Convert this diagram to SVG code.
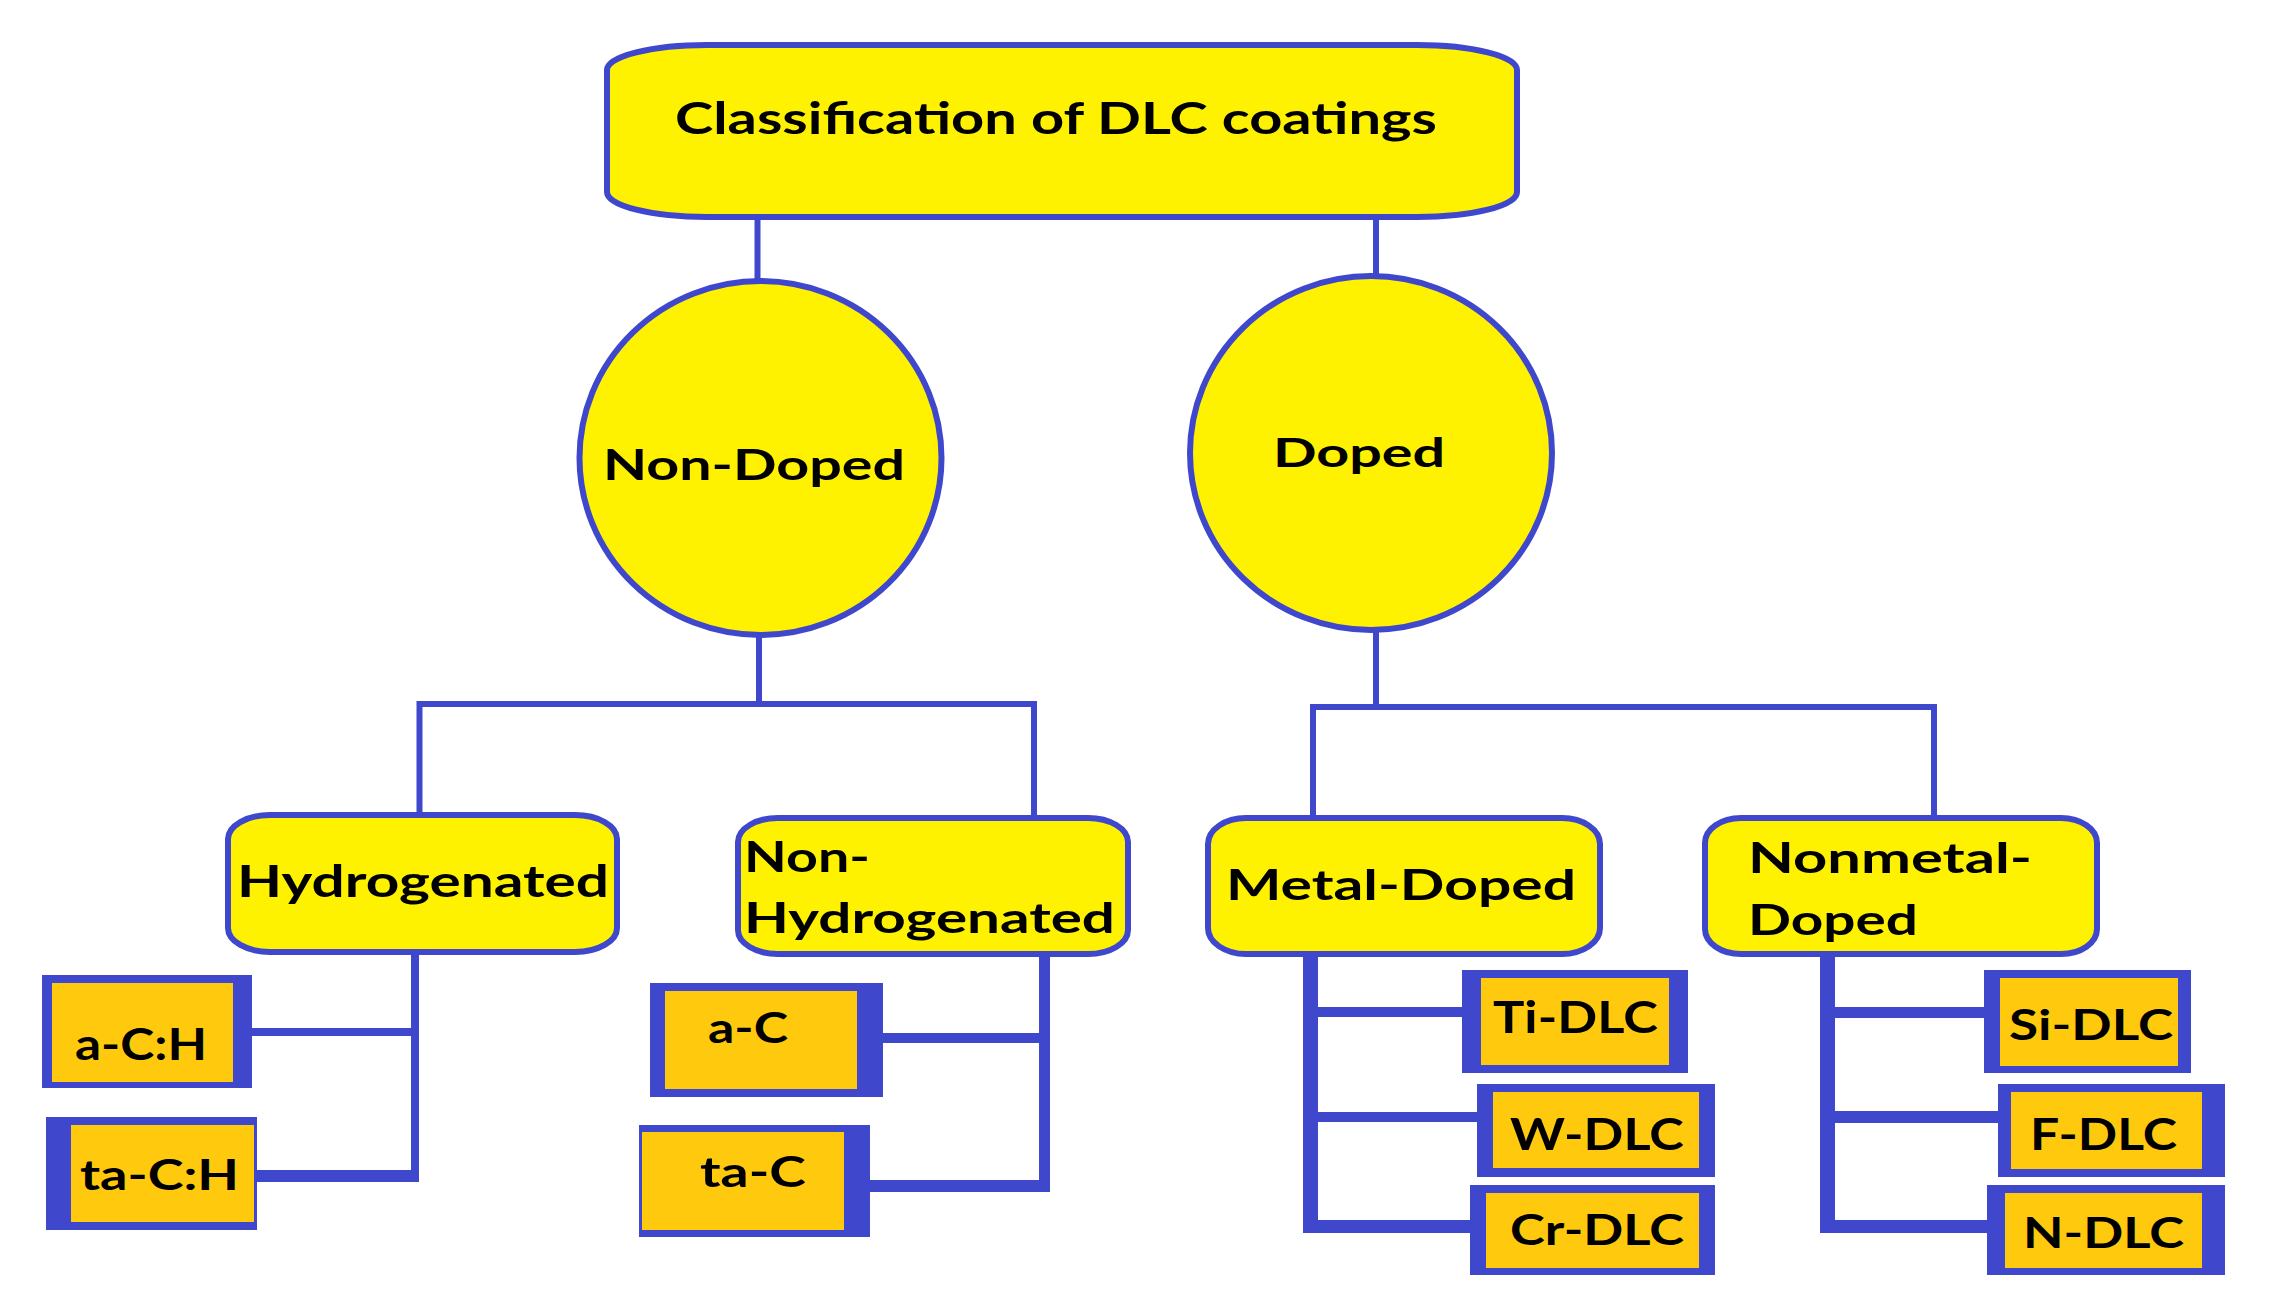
<svg xmlns="http://www.w3.org/2000/svg" width="2280" height="1305" viewBox="0 0 2280 1305">
<style>
.bg{fill:#ffffff}
.conn{fill:none;stroke:#3f48cc;stroke-width:6;stroke-linejoin:miter;stroke-linecap:butt}
.bar{fill:#3f48cc}
.main{fill:#fff200;stroke:#3f48cc;stroke-width:6}
.outer{fill:#3f48cc}
.inner{fill:#ffc90e}
.t{font-family:Lato,"Open Sans","Liberation Sans",sans-serif;font-weight:bold;fill:#000000}
</style>
<rect class="bg" x="0" y="0" width="2280" height="1305"/>
<g id="connectors">
<line class="conn" x1="757.5" y1="217" x2="757.5" y2="281"/>
<line class="conn" x1="1376" y1="217" x2="1376" y2="276"/>
<path class="conn" d="M759,636 V704"/>
<path class="conn" d="M419.5,815 V704 H1034 V818"/>
<path class="conn" d="M1376,631 V707"/>
<path class="conn" d="M1313,818 V707 H1934 V818"/>
<rect class="bar" x="411" y="955" width="8" height="227"/>
<rect class="bar" x="252" y="1028" width="163" height="8"/>
<rect class="bar" x="254" y="1170" width="165" height="12"/>
<rect class="bar" x="1039" y="956" width="11" height="236"/>
<rect class="bar" x="883" y="1033" width="160" height="10"/>
<rect class="bar" x="869" y="1180" width="181" height="12"/>
<rect class="bar" x="1303" y="956" width="15" height="277"/>
<rect class="bar" x="1303" y="1007" width="159" height="10"/>
<rect class="bar" x="1303" y="1112" width="174" height="10"/>
<rect class="bar" x="1303" y="1220" width="167" height="13"/>
<rect class="bar" x="1820" y="956" width="15" height="277"/>
<rect class="bar" x="1820" y="1007" width="164" height="11"/>
<rect class="bar" x="1820" y="1111" width="178" height="12"/>
<rect class="bar" x="1820" y="1220" width="167" height="13"/>
</g>
<g id="root">
<rect class="main" x="607" y="45" width="910" height="172" rx="100" ry="25"/>
<text class="t" x="675" y="134" font-size="43" textLength="762" lengthAdjust="spacingAndGlyphs">Classification of DLC coatings</text>
</g>
<g id="nondoped">
<ellipse class="main" cx="760.5" cy="458" rx="181" ry="177"/>
<text class="t" x="603" y="480" font-size="42" textLength="302" lengthAdjust="spacingAndGlyphs">Non-Doped</text>
</g>
<g id="doped">
<ellipse class="main" cx="1371" cy="453" rx="181" ry="177"/>
<text class="t" x="1273" y="467" font-size="40" textLength="172" lengthAdjust="spacingAndGlyphs">Doped</text>
</g>
<g id="hydrogenated">
<rect class="main" x="228" y="815" width="389" height="137" rx="42" ry="24"/>
<text class="t" x="237" y="897" font-size="44" textLength="372" lengthAdjust="spacingAndGlyphs">Hydrogenated</text>
</g>
<g id="nonhydrogenated">
<rect class="main" x="738" y="818" width="390" height="136" rx="40" ry="24"/>
<text class="t" x="744" y="872" font-size="42" textLength="126" lengthAdjust="spacingAndGlyphs">Non-</text>
<text class="t" x="744" y="933" font-size="42" textLength="371" lengthAdjust="spacingAndGlyphs">Hydrogenated</text>
</g>
<g id="metaldoped">
<rect class="main" x="1208" y="818" width="392" height="136" rx="38" ry="26"/>
<text class="t" x="1226" y="900" font-size="42" textLength="350" lengthAdjust="spacingAndGlyphs">Metal-Doped</text>
</g>
<g id="nonmetaldoped">
<rect class="main" x="1705" y="818" width="392" height="136" rx="36" ry="25"/>
<text class="t" x="1748" y="873" font-size="42" textLength="284" lengthAdjust="spacingAndGlyphs">Nonmetal-</text>
<text class="t" x="1748" y="935" font-size="42" textLength="170" lengthAdjust="spacingAndGlyphs">Doped</text>
</g>
<g id="aCH">
<rect class="outer" x="42" y="975" width="210" height="113"/>
<rect class="inner" x="52" y="983" width="181" height="99"/>
<text class="t" x="75" y="1060" font-size="44" textLength="132" lengthAdjust="spacingAndGlyphs">a-C:H</text>
</g>
<g id="taCH">
<rect class="outer" x="46" y="1117" width="211" height="113"/>
<rect class="inner" x="71" y="1125" width="183" height="97"/>
<text class="t" x="80" y="1190" font-size="42" textLength="159" lengthAdjust="spacingAndGlyphs">ta-C:H</text>
</g>
<g id="aC">
<rect class="outer" x="650" y="983" width="233" height="114"/>
<rect class="inner" x="665" y="991" width="192" height="98"/>
<text class="t" x="708" y="1043" font-size="42" textLength="80" lengthAdjust="spacingAndGlyphs">a-C</text>
</g>
<g id="taC">
<rect class="outer" x="639" y="1125" width="231" height="112"/>
<rect class="inner" x="642" y="1132" width="202" height="98"/>
<text class="t" x="700" y="1187" font-size="42" textLength="106" lengthAdjust="spacingAndGlyphs">ta-C</text>
</g>
<g id="TiDLC">
<rect class="outer" x="1462" y="970" width="226" height="103"/>
<rect class="inner" x="1481" y="978" width="188" height="87"/>
<text class="t" x="1493" y="1033" font-size="44" textLength="165" lengthAdjust="spacingAndGlyphs">Ti-DLC</text>
</g>
<g id="WDLC">
<rect class="outer" x="1477" y="1084" width="238" height="93"/>
<rect class="inner" x="1493" y="1092" width="206" height="76"/>
<text class="t" x="1510" y="1150" font-size="44" textLength="174" lengthAdjust="spacingAndGlyphs">W-DLC</text>
</g>
<g id="CrDLC">
<rect class="outer" x="1470" y="1185" width="245" height="90"/>
<rect class="inner" x="1486" y="1193" width="213" height="75"/>
<text class="t" x="1510" y="1245" font-size="42" textLength="174" lengthAdjust="spacingAndGlyphs">Cr-DLC</text>
</g>
<g id="SiDLC">
<rect class="outer" x="1984" y="970" width="207" height="103"/>
<rect class="inner" x="2000" y="978" width="178" height="88"/>
<text class="t" x="2009" y="1040" font-size="42" textLength="164" lengthAdjust="spacingAndGlyphs">Si-DLC</text>
</g>
<g id="FDLC">
<rect class="outer" x="1998" y="1084" width="227" height="93"/>
<rect class="inner" x="2011" y="1092" width="191" height="77"/>
<text class="t" x="2030" y="1150" font-size="44" textLength="147" lengthAdjust="spacingAndGlyphs">F-DLC</text>
</g>
<g id="NDLC">
<rect class="outer" x="1987" y="1185" width="238" height="90"/>
<rect class="inner" x="2005" y="1193" width="197" height="75"/>
<text class="t" x="2023" y="1248" font-size="42" textLength="161" lengthAdjust="spacingAndGlyphs">N-DLC</text>
</g>
</svg>
